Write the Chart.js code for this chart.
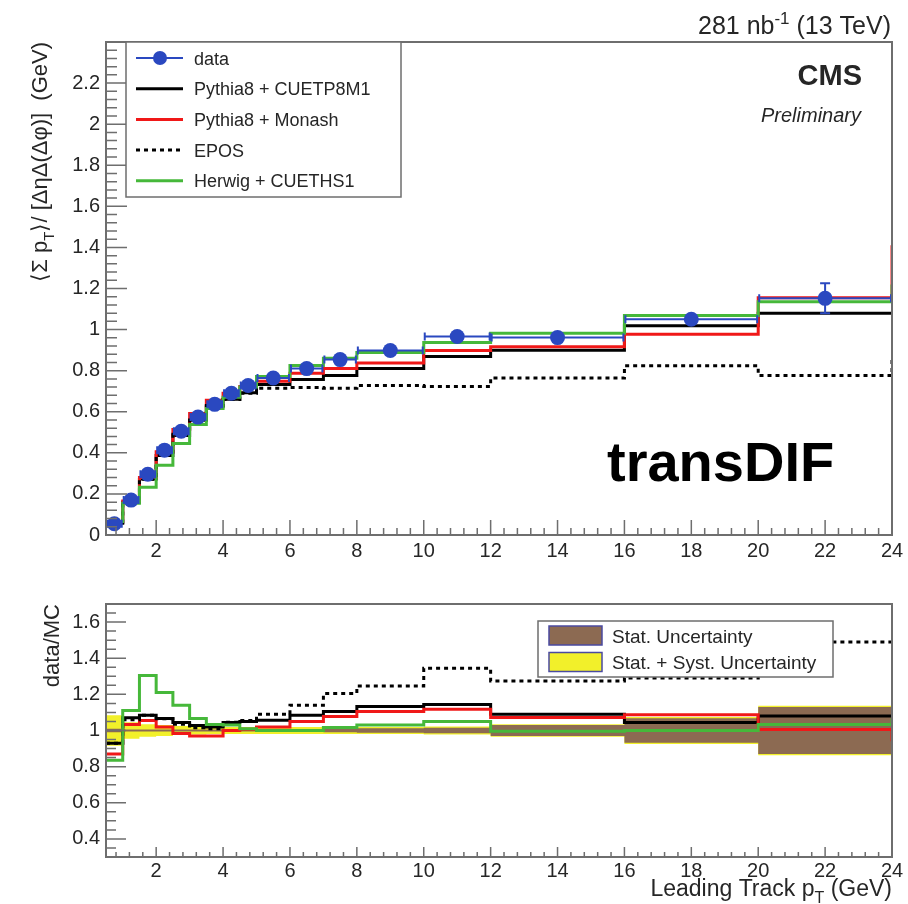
<!DOCTYPE html>
<html>
<head>
<meta charset="utf-8">
<title>transDIF</title>
<script src="https://cdn.jsdelivr.net/npm/chart.js@4.4.0/dist/chart.umd.min.js"></script>
<style>
    html, body { margin: 0; padding: 0; background: #fff; }
    #wrap { position: relative; width: 908px; height: 904px; }
    #topChart { position: absolute; left: 0; top: 0; }
    #ratioChart { position: absolute; left: 0; top: 575px; }
</style>
</head>
<body>
<div id="wrap">
    <canvas id="topChart" width="908" height="575"></canvas>
    <canvas id="ratioChart" width="908" height="329"></canvas>
</div>
<script>
// ======================================
// DATA
// ======================================

// bin edges of leading track pT (GeV)
const binEdges = [0.5, 1, 1.5, 2, 2.5, 3, 3.5, 4, 4.5, 5, 6, 7, 8, 10, 12, 16, 20, 24];

// top panel: <sum pT> density (GeV)
const dataValues = [0.055, 0.17, 0.296, 0.413, 0.505, 0.574, 0.636, 0.69, 0.728, 0.764, 0.81, 0.854, 0.898, 0.966, 0.961, 1.05, 1.152];
const dataErrors = [0.003, 0.003, 0.004, 0.004, 0.004, 0.004, 0.004, 0.004, 0.004, 0.004, 0.005, 0.006, 0.006, 0.008, 0.01, 0.02, 0.073];
const cuetp8m1Values = [0.058, 0.16, 0.273, 0.387, 0.484, 0.559, 0.624, 0.661, 0.693, 0.733, 0.757, 0.777, 0.81, 0.869, 0.9, 1.019, 1.079];
const monashValues = [0.063, 0.165, 0.28, 0.405, 0.514, 0.592, 0.656, 0.69, 0.723, 0.748, 0.788, 0.81, 0.837, 0.898, 0.917, 0.977, 1.155];
const eposValues = [0.059, 0.16, 0.272, 0.39, 0.49, 0.568, 0.63, 0.66, 0.69, 0.715, 0.718, 0.714, 0.728, 0.723, 0.764, 0.824, 0.777];
const herwigValues = [0.066, 0.155, 0.232, 0.34, 0.445, 0.538, 0.616, 0.67, 0.72, 0.772, 0.825, 0.86, 0.888, 0.937, 0.982, 1.068, 1.136];
// value reached by the vertical edge drawn at x = 24 (next bin)
const monashEdge = 1.41;
const herwigEdge = 1.22;
const eposEdge = 0.86;

// bottom panel: data/MC
const ratioCuetp8m1 = [0.93, 1.07, 1.085, 1.067, 1.044, 1.027, 1.02, 1.044, 1.05, 1.057, 1.085, 1.105, 1.133, 1.144, 1.09, 1.044, 1.08];
const ratioMonash = [0.87, 1.033, 1.055, 1.02, 0.983, 0.97, 0.97, 1.0, 1.007, 1.02, 1.05, 1.078, 1.105, 1.117, 1.072, 1.087, 1.005];
const ratioEpos = [0.93, 1.06, 1.085, 1.065, 1.035, 1.015, 1.01, 1.045, 1.055, 1.09, 1.14, 1.205, 1.246, 1.344, 1.274, 1.29, 1.49];
const ratioHerwig = [0.835, 1.11, 1.305, 1.21, 1.14, 1.067, 1.033, 1.03, 1.01, 1.0, 1.0, 1.017, 1.03, 1.05, 0.996, 1.0, 1.033];
const ratioMonashEdge = 0.94;
const ratioHerwigEdge = 1.067;
// half widths of the uncertainty bands around 1
const statUnc = [0.01, 0.005, 0.005, 0.005, 0.005, 0.005, 0.005, 0.005, 0.005, 0.006, 0.008, 0.01, 0.012, 0.015, 0.03, 0.068, 0.13];
const statSystUnc = [0.085, 0.045, 0.035, 0.03, 0.025, 0.022, 0.02, 0.02, 0.02, 0.02, 0.02, 0.02, 0.02, 0.022, 0.035, 0.075, 0.137];

// tick labels
const xTicks = [2, 4, 6, 8, 10, 12, 14, 16, 18, 20, 22, 24];
const yTicksTop = [0, 0.2, 0.4, 0.6, 0.8, 1, 1.2, 1.4, 1.6, 1.8, 2, 2.2];
const yTicksRatio = [0.4, 0.6, 0.8, 1, 1.2, 1.4, 1.6];

// ======================================
// STYLE
// ======================================
const FONT = '"Liberation Sans", Arial, Helvetica, sans-serif';
const TEXT = '#262626';
const FRAME = '#6e6e6e';
const BLUE = '#2a48c0';
const RED = '#f01818';
const GREEN = '#46b83a';
const BLACK = '#000000';
const BROWN = '#8c6a52';
const YELLOW = '#f2f02a';

// ======================================
// HELPER FUNCTIONS
// ======================================

// points for a histogram drawn with stepped: 'before' (horizontal, then vertical)
function histPoints(values, edgeValue) {
    const pts = values.map((v, i) => ({ x: binEdges[i], y: v }));
    const last = (edgeValue === undefined || edgeValue === null) ? values[values.length - 1] : edgeValue;
    pts.push({ x: binEdges[binEdges.length - 1], y: last });
    return pts;
}

function histDataset(label, values, edgeValue, color, dashed) {
    return {
        label: label,
        data: histPoints(values, edgeValue),
        stepped: 'before',
        borderColor: color,
        borderWidth: 3,
        borderDash: dashed ? [4, 4] : [],
        pointRadius: 0,
        fill: false
    };
}

function bandDataset(label, values, sign, color, fillTarget) {
    return {
        label: label,
        data: histPoints(values.map(w => 1 + sign * w)),
        stepped: 'before',
        borderWidth: 0,
        borderColor: 'rgba(0,0,0,0)',
        backgroundColor: color,
        pointRadius: 0,
        fill: fillTarget
    };
}

// text with sub/superscript pieces: parts = [[text, ''|'sub'|'sup'], ...]
function drawRich(ctx, parts, x, y, align, size, style) {
    const base = `${style || ''} ${size}px ${FONT}`;
    const small = `${style || ''} ${Math.round(size * 0.68)}px ${FONT}`;
    let w = 0;
    parts.forEach(p => { ctx.font = p[1] ? small : base; w += ctx.measureText(p[0]).width; });
    let cx = align === 'right' ? x - w : (align === 'center' ? x - w / 2 : x);
    ctx.textAlign = 'left';
    ctx.textBaseline = 'alphabetic';
    parts.forEach(p => {
        ctx.font = p[1] ? small : base;
        const dy = p[1] === 'sub' ? size * 0.3 : (p[1] === 'sup' ? -size * 0.42 : 0);
        ctx.fillText(p[0], cx, y + dy);
        cx += ctx.measureText(p[0]).width;
    });
}

function drawRotated(ctx, parts, x, y, size) {
    ctx.save();
    ctx.translate(x, y);
    ctx.rotate(-Math.PI / 2);
    drawRich(ctx, parts, 0, 0, 'right', size);
    ctx.restore();
}

// ======================================
// PLUGINS
// ======================================

// ROOT-like frame with inward ticks
const rootFrame = {
    id: 'rootFrame',
    afterDatasetsDraw(chart, args, o) {
        const { ctx, chartArea: a, scales: { x, y } } = chart;
        ctx.save();
        ctx.strokeStyle = FRAME;
        ctx.lineWidth = 1.5;
        ctx.beginPath();
        const minor = (scale, step, fn) => {
            for (let i = Math.ceil(scale.min / step - 1e-9); i * step <= scale.max + 1e-9; i++) fn(scale.getPixelForValue(i * step));
        };
        xTicks.forEach(v => { const px = x.getPixelForValue(v); ctx.moveTo(px, a.bottom); ctx.lineTo(px, a.bottom - o.xMajorLen); });
        minor(x, o.xMinorStep, px => { ctx.moveTo(px, a.bottom); ctx.lineTo(px, a.bottom - o.xMinorLen); });
        o.yMajor.forEach(v => { const py = y.getPixelForValue(v); ctx.moveTo(a.left, py); ctx.lineTo(a.left + o.yMajorLen, py); });
        minor(y, o.yMinorStep, py => { ctx.moveTo(a.left, py); ctx.lineTo(a.left + o.yMinorLen, py); });
        ctx.stroke();
        ctx.lineWidth = 2;
        ctx.strokeRect(a.left, a.top, a.right - a.left, a.bottom - a.top);
        ctx.restore();
    }
};

// error bars of the data (drawn just under the markers)
const dataErrorBars = {
    id: 'dataErrorBars',
    afterDatasetDraw(chart, args) {
        if (args.index !== 1) return;
        const { ctx, scales: { x, y } } = chart;
        ctx.save();
        ctx.strokeStyle = BLUE;
        ctx.lineWidth = 2;
        ctx.beginPath();
        dataValues.forEach((v, i) => {
            const x0 = x.getPixelForValue(binEdges[i]);
            const x1 = x.getPixelForValue(binEdges[i + 1]);
            const yc = y.getPixelForValue(v);
            ctx.moveTo(x0, yc); ctx.lineTo(x1, yc);
            ctx.moveTo(x0 + 1, yc - 4); ctx.lineTo(x0 + 1, yc + 4);
            ctx.moveTo(x1 - 1, yc - 4); ctx.lineTo(x1 - 1, yc + 4);
            const yHi = y.getPixelForValue(v + dataErrors[i]);
            const yLo = y.getPixelForValue(v - dataErrors[i]);
            if (yLo - yHi > 16) {
                const xc = (x0 + x1) / 2;
                ctx.moveTo(xc, yHi); ctx.lineTo(xc, yLo);
                ctx.moveTo(xc - 5, yHi); ctx.lineTo(xc + 5, yHi);
                ctx.moveTo(xc - 5, yLo); ctx.lineTo(xc + 5, yLo);
            }
        });
        ctx.stroke();
        ctx.restore();
    }
};

const topTexts = {
    id: 'topTexts',
    afterDraw(chart) {
        const ctx = chart.ctx;
        ctx.save();
        ctx.fillStyle = TEXT;
        drawRich(ctx, [['281 nb', ''], ['-1', 'sup'], [' (13 TeV)', '']], 891, 34, 'right', 25);
        drawRich(ctx, [['CMS', '']], 862, 85, 'right', 29, 'bold');
        drawRich(ctx, [['Preliminary', '']], 861, 122, 'right', 20, 'italic');
        ctx.fillStyle = '#000';
        drawRich(ctx, [['transDIF', '']], 607, 481, 'left', 56, 'bold');
        ctx.fillStyle = TEXT;
        drawRotated(ctx, [['\u27E8\u03A3 p', ''], ['T', 'sub'], ['\u27E9/ [\u0394\u03B7\u0394(\u0394\u03C6)]  (GeV)', '']], 47, 42, 22);

        // legend
        ctx.fillStyle = '#fff';
        ctx.fillRect(126, 42, 275, 155);
        ctx.strokeStyle = FRAME;
        ctx.lineWidth = 1.5;
        ctx.strokeRect(126, 42, 275, 155);
        const entries = [
            ['data', BLUE, 'data'],
            ['Pythia8 + CUETP8M1', BLACK, ''],
            ['Pythia8 + Monash', RED, ''],
            ['EPOS', BLACK, 'dash'],
            ['Herwig + CUETHS1', GREEN, '']
        ];
        entries.forEach((e, i) => {
            const yc = 58 + i * 30.7;
            ctx.strokeStyle = e[1];
            ctx.lineWidth = e[2] === 'data' ? 2 : 3;
            ctx.setLineDash(e[2] === 'dash' ? [4, 4] : []);
            ctx.beginPath();
            ctx.moveTo(136, yc); ctx.lineTo(183, yc);
            ctx.stroke();
            ctx.setLineDash([]);
            if (e[2] === 'data') {
                ctx.fillStyle = BLUE;
                ctx.beginPath();
                ctx.arc(160, yc, 7, 0, Math.PI * 2);
                ctx.fill();
            }
            ctx.fillStyle = TEXT;
            drawRich(ctx, [[e[0], '']], 194, yc + 6.5, 'left', 18);
        });
        ctx.restore();
    }
};

const ratioTexts = {
    id: 'ratioTexts',
    afterDraw(chart) {
        const ctx = chart.ctx;
        ctx.save();
        ctx.fillStyle = TEXT;
        drawRotated(ctx, [['data/MC', '']], 59, 29, 22);
        drawRich(ctx, [['Leading Track p', ''], ['T', 'sub'], [' (GeV)', '']], 892, 321, 'right', 23);

        // legend
        ctx.fillStyle = '#fff';
        ctx.fillRect(538, 46, 295, 56);
        ctx.strokeStyle = FRAME;
        ctx.lineWidth = 1.5;
        ctx.strokeRect(538, 46, 295, 56);
        [['Stat. Uncertainty', BROWN], ['Stat. + Syst. Uncertainty', YELLOW]].forEach((e, i) => {
            const yc = 60.5 + i * 26.5;
            ctx.fillStyle = e[1];
            ctx.fillRect(549, yc - 9.5, 53, 19);
            ctx.strokeStyle = '#4a4aa0';
            ctx.lineWidth = 1.5;
            ctx.strokeRect(549, yc - 9.5, 53, 19);
            ctx.fillStyle = TEXT;
            drawRich(ctx, [[e[0], '']], 612, yc + 7, 'left', 19);
        });
        ctx.restore();
    }
};

// ======================================
// CHART OPTIONS
// ======================================
function axisOptions(ticksArr, min, max, size, pad, fit) {
    return {
        type: 'linear',
        min: min,
        max: max,
        grid: { display: false, drawTicks: false },
        border: { display: false },
        afterBuildTicks: s => { s.ticks = ticksArr.map(v => ({ value: v })); },
        afterFit: fit,
        ticks: {
            color: TEXT,
            font: { family: FONT, size: size },
            padding: pad,
            maxRotation: 0,
            autoSkip: false,
            callback: v => String(v)
        }
    };
}

const commonPlugins = {
    legend: { display: false },
    tooltip: { enabled: false },
    title: { display: false }
};

// ======================================
// CHART INITIALIZATION
// ======================================
const dataPoints = dataValues.map((v, i) => ({ x: (binEdges[i] + binEdges[i + 1]) / 2, y: v }));

new Chart(document.getElementById('topChart'), {
    type: 'line',
    data: {
        datasets: [
            { label: 'data', data: dataPoints, showLine: false, pointRadius: 7.5, pointBackgroundColor: BLUE, pointBorderWidth: 0, pointBorderColor: BLUE },
            { label: 'data bars', data: [], showLine: false, pointRadius: 0 },
            histDataset('Herwig + CUETHS1', herwigValues, herwigEdge, GREEN),
            histDataset('EPOS', eposValues, eposEdge, BLACK, true),
            histDataset('Pythia8 + Monash', monashValues, monashEdge, RED),
            histDataset('Pythia8 + CUETP8M1', cuetp8m1Values, null, BLACK)
        ]
    },
    options: {
        responsive: false,
        animation: false,
        events: [],
        layout: { padding: { left: 0, right: 16, top: 42, bottom: 0 } },
        scales: {
            x: axisOptions(xTicks, 0.5, 24, 20, 4, s => { s.height = 40; }),
            y: axisOptions(yTicksTop, 0, 2.4, 20, 6, s => { s.width = 106; })
        },
        plugins: {
            ...commonPlugins,
            rootFrame: { xMajorLen: 15, xMinorLen: 7, xMinorStep: 0.4, yMajor: yTicksTop, yMajorLen: 21, yMinorLen: 11, yMinorStep: 0.04 }
        }
    },
    plugins: [rootFrame, dataErrorBars, topTexts]
});

new Chart(document.getElementById('ratioChart'), {
    type: 'line',
    data: {
        datasets: [
            histDataset('Herwig + CUETHS1', ratioHerwig, ratioHerwigEdge, GREEN),
            histDataset('EPOS', ratioEpos, null, BLACK, true),
            histDataset('Pythia8 + Monash', ratioMonash, ratioMonashEdge, RED),
            histDataset('Pythia8 + CUETP8M1', ratioCuetp8m1, null, BLACK),
            bandDataset('Stat. Uncertainty', statUnc, 1, BROWN, '+1'),
            bandDataset('stat low', statUnc, -1, BROWN, false),
            bandDataset('Stat. + Syst. Uncertainty', statSystUnc, 1, YELLOW, '+1'),
            bandDataset('syst low', statSystUnc, -1, YELLOW, false)
        ]
    },
    options: {
        responsive: false,
        animation: false,
        events: [],
        layout: { padding: { left: 0, right: 16, top: 29, bottom: 0 } },
        scales: {
            x: axisOptions(xTicks, 0.5, 24, 20, 2, s => { s.height = 47; }),
            y: axisOptions(yTicksRatio, 0.3, 1.7, 20, 6, s => { s.width = 106; })
        },
        plugins: {
            ...commonPlugins,
            filler: { propagate: false },
            rootFrame: { xMajorLen: 10, xMinorLen: 5, xMinorStep: 0.4, yMajor: yTicksRatio, yMajorLen: 20, yMinorLen: 10, yMinorStep: 0.05 }
        }
    },
    plugins: [rootFrame, ratioTexts]
});
</script>
</body>
</html>
